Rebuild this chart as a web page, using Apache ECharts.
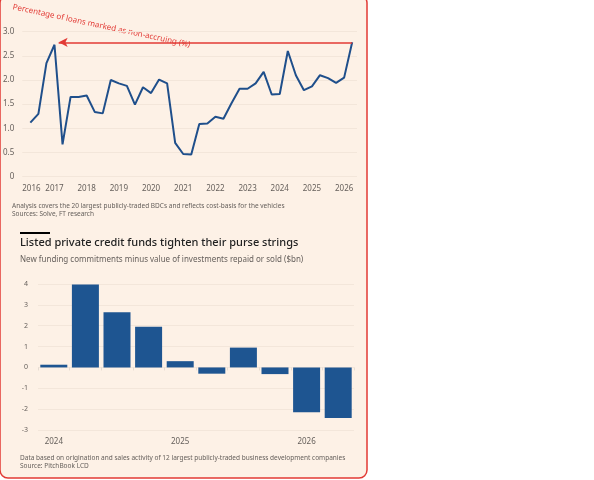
<!DOCTYPE html><html><head><meta charset="utf-8"><script src="https://cdn.jsdelivr.net/npm/echarts@6/dist/echarts.min.js"></script>
<style>html,body{margin:0;background:#fff}#c{width:594px;height:480px}</style></head><body><div id="c"></div><script>
const lineYears=[];for(let i=0;i<41;i++)lineYears.push(2016.25+i*0.25);
const lineValues=[1.12,1.3,2.35,2.73,0.67,1.65,1.65,1.68,1.34,1.31,2.0,1.93,1.88,1.49,1.85,1.73,2.01,1.93,0.7,0.47,0.46,1.09,1.1,1.24,1.2,1.52,1.82,1.82,1.93,2.17,1.7,1.71,2.6,2.1,1.79,1.87,2.1,2.04,1.94,2.05,2.78];
const barCats=['2024 Q1','2024 Q2','2024 Q3','2024 Q4','2025 Q1','2025 Q2','2025 Q3','2025 Q4','2026 Q1','2026 Q2'];
const barLabels={0:'2024',4:'2025',8:'2026'};
const barValues=[0.13,3.98,2.65,1.95,0.3,-0.3,0.95,-0.32,-2.15,-2.42];
const F='"Noto Sans", sans-serif', G='#66605c', RED='#e23a35';
const ch=echarts.init(document.getElementById('c'));
const txt=(x,y,t,s,c,w)=>({type:'text',left:x,top:y,style:{text:t,font:(w||'normal')+' '+s+'px '+F,fill:c||G}});
ch.setOption({
 animation:false,
 grid:[{left:22,right:237,top:31.7,height:145},{left:38,right:240,top:284,height:146}],
 xAxis:[{type:'value',gridIndex:0,min:2016,max:2026.4,interval:1,axisLine:{show:false},axisTick:{show:false},splitLine:{show:false},
   axisLabel:{color:G,fontSize:8,fontFamily:F,margin:8,showMaxLabel:false,alignMinLabel:'left',formatter:v=>String(v)}},
  {type:'category',gridIndex:1,data:barCats,axisLine:{show:false},axisTick:{show:true,alignWithLabel:false,length:3,lineStyle:{color:'#e6dcd2'}},splitLine:{show:false},
   axisLabel:{color:G,fontSize:8,fontFamily:F,interval:0,margin:8,formatter:(v,i)=>barLabels[i]||''}}],
 yAxis:[{type:'value',gridIndex:0,min:0,max:3,interval:0.5,axisLine:{show:false},axisTick:{show:false},splitLine:{lineStyle:{color:'#f3e6da'}},
   axisLabel:{color:G,fontSize:8,fontFamily:F,margin:0,align:'right',padding:[0,8,0,0],formatter:v=>v===0?'0':v.toFixed(1)}},
  {type:'value',gridIndex:1,min:-3,max:4,interval:1,axisLine:{show:false},axisTick:{show:false},splitLine:{lineStyle:{color:'#f3e6da'}},
   axisLabel:{color:G,fontSize:7,fontFamily:F,margin:10}}],
 series:[{type:'line',xAxisIndex:0,yAxisIndex:0,data:lineYears.map((x,i)=>[x,lineValues[i]]),symbol:'none',lineStyle:{color:'#1f4f8b',width:2},
   markLine:{silent:true,symbol:['none','arrow'],symbolSize:[7,9],label:{show:false},lineStyle:{color:RED,type:'solid',width:1.5},
   data:[[{coord:[2026.25,2.78]},{coord:[2017.13,2.78]}]]}},
  {type:'bar',xAxisIndex:1,yAxisIndex:1,data:barValues,barWidth:27,itemStyle:{color:'#1e5591'}}],
 graphic:[{type:'rect',z:-10,shape:{x:0,y:-5,width:367,height:483,r:8},style:{fill:'#fdf1e6',stroke:'#ece4dc'}},
  txt(12,3,'Percentage of loans marked as non-accruing (%)',8),
  txt(12,203,'Analysis covers the 20 largest publicly-traded BDCs and reflects cost-basis for the vehicles',6.5),
  txt(12,211,'Sources: Solve, FT research',6.5),
  {type:'rect',shape:{x:20,y:232,width:30,height:2},style:{fill:'#000'}},
  txt(20,237,'Listed private credit funds tighten their purse strings',11,'#222','500'),
  txt(20,256,'New funding commitments minus value of investments repaid or sold ($bn)',8),
  txt(20,455,'Data based on origination and sales activity of 12 largest publicly-traded business development companies',6.5),
  txt(20,463,'Source: PitchBook LCD',6.5)]
});
const p1=ch.convertToPixel({gridIndex:1},[1,-0.32]), p7=ch.convertToPixel({gridIndex:1},[7,-2.17]);
const sp=(p7[0]-ch.convertToPixel({gridIndex:1},[6,0])[0]);
const x1=p1[0]+0.7*sp, x2=p7[0]+0.4*sp, y1=p1[1], y2=p7[1];
const ang=Math.atan2(y2-y1,x2-x1);
ch.setOption({graphic:[{type:'line',shape:{x1:x1,y1:y1,x2:x2,y2:y2},style:{stroke:RED,lineWidth:1.5}},
 {type:'polygon',shape:{points:[[x2+4,y2],[x2-6,y2-4],[x2-6,y2+4]]},originX:x2,originY:y2,rotation:-ang,style:{fill:RED}}]});
</script></body></html>
